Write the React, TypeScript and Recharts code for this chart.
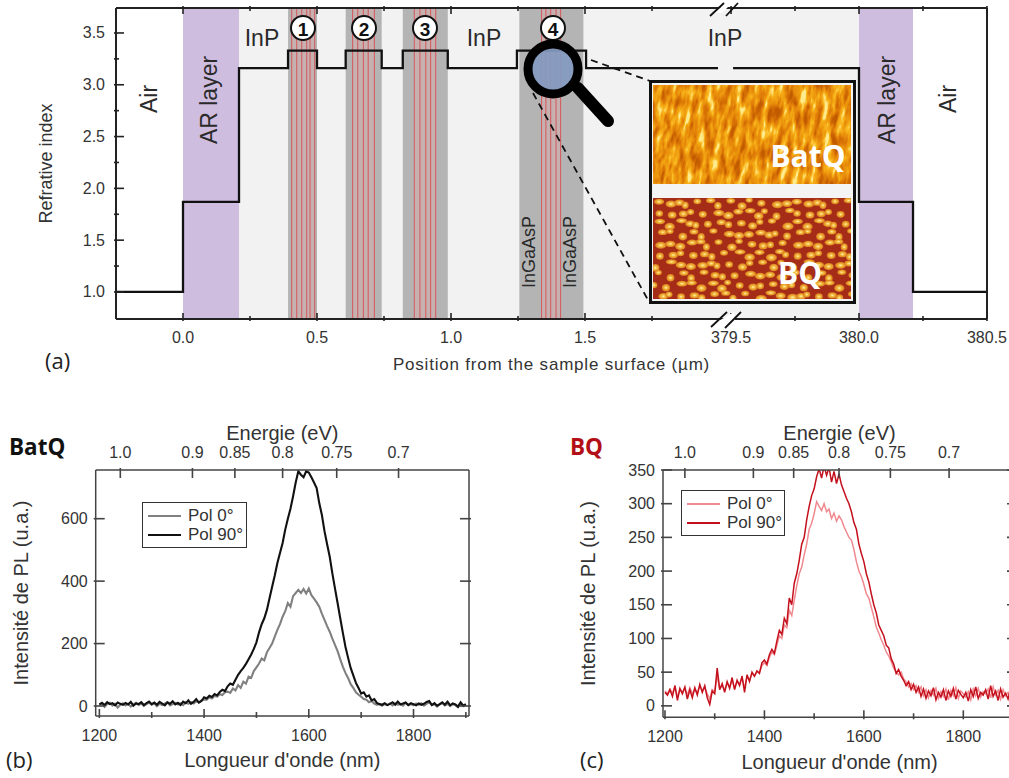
import { LineChart, Line, XAxis, YAxis, ReferenceArea, ReferenceLine, Legend } from "recharts";

const SANS = "'Liberation Sans', Arial, sans-serif";
const SEGOE = "'Open Sans', 'Noto Sans', sans-serif";
const INK = "#333";

// panel (a): refractive index profile
const stepPositions = [
  -0.25, 0, 0, 0.209, 0.209, 0.392, 0.392, 0.5, 0.5, 0.607, 0.607, 0.7414, 0.7414, 0.82, 0.82, 0.988, 0.988, 1.246, 1.246,
  1.504, 1.504, 379.449, 379.508, 380, 380, 380.211, 380.211, 380.5,
];
const stepIndex = [
  1, 1, 1.87, 1.87, 3.16, 3.16, 3.33, 3.33, 3.16, 3.16, 3.33, 3.33, 3.16, 3.16, 3.33, 3.33, 3.16, 3.16, 3.33, 3.33, 3.16, 3.16,
  3.16, 3.16, 1.87, 1.87, 1, 1,
];
const gapAfter = 379.449;
const wells = [
  [0.392, 0.5],
  [0.607, 0.7414],
  [0.82, 0.988],
  [1.255, 1.494],
];
const wellStripes = [
  [0.4056, 0.4243, 0.443, 0.4616, 0.474, 0.4914],
  [0.633, 0.652, 0.673, 0.691, 0.714],
  [0.863, 0.884, 0.906, 0.924, 0.943],
  [1.338, 1.354, 1.372, 1.392, 1.409],
];
const xMajor = [0, 0.5, 1, 1.5, 379.5, 380, 380.5];
const xMinor = [0.25, 0.75, 1.25, 1.75, 379.75, 380.25];
const yMajor = [1, 1.5, 2, 2.5, 3, 3.5];
const yMinor = [1.25, 1.75, 2.25, 2.75, 3.25];

// the x axis is broken: everything past the break is folded back next to the first part
const fold = (v: number) => (v < 100 ? v : 2.5224 + (v - 380) * 0.955);

const stepRows: { x: number; n: number | null }[] = [];
stepPositions.forEach((p, i) => {
  stepRows.push({ x: fold(p), n: stepIndex[i] });
  if (p === gapAfter) stepRows.push({ x: fold(p) + 0.001, n: null });
});

// panels (b) and (c): one value every 5 nm, rows of 50 nm
const batqPol0 = [
  3, 8, -3, 6, 10, 1, 7, -5, 4, 9,
  2, 7, -2, 5, 10, 3, 8, 0, 6, 11,
  4, 9, -1, 7, 3, 8, 12, 2, 6, 10,
  5, 9, 3, 11, 7, 13, 8, 15, 12, 18,
  21, 20, 28, 24, 32, 30, 38, 35, 44, 46,
  42, 56, 50, 67, 58, 78, 72, 94, 90, 112,
  124, 136, 152, 146, 172, 186, 200, 222, 244, 262,
  286, 304, 330, 318, 352, 362, 372, 362, 375, 360,
  376, 355, 344, 332, 318, 296, 276, 256, 238, 216,
  196, 176, 150, 126, 106, 90, 70, 58, 44, 36,
  30, 22, 20, 12, 16, 8, 4, 7, 1, 6,
  3, 8, 2, 9, 4, 7, 1, 10, 3, 6,
  2, 8, 4, 9, 1, 7, 12, 3, 6, -2,
  5, 9, 2, 7, 0, 6, 3, -4, 5, -1,
  4,
];
const batqPol90 = [
  5, 10, 3, 12, 6, 9, 2, 11, 7, 4,
  10, 5, 13, 1, 8, 6, 12, 3, 9, 14,
  6, 11, 4, 13, 8, 2, 12, 7, 15, 5,
  10, 3, 14, 9, 18, 7, 13, 22, 11, 16,
  28, 24, 33, 29, 38, 34, 45, 52, 48, 63,
  72, 68, 84, 100, 112, 122, 135, 150, 165, 183,
  204, 236, 262, 281, 308, 345, 382, 418, 458, 490,
  522, 565, 600, 632, 672, 716, 752, 741, 733, 752,
  748, 733, 716, 698, 650, 612, 560, 518, 478, 425,
  377, 330, 282, 235, 190, 155, 122, 98, 74, 58,
  40, 44, 30, 34, 18, 22, 10, 6, 4, 9,
  3, 7, 12, 4, 14, 5, 8, 11, 3, 9,
  6, 2, 8, 4, 7, 13, 16, 3, 9, 1,
  6, 12, 4, 14, 2, 8, 5, -2, 12, 1,
  6,
];
const bqPol0 = [
  22, 18, 25, 19, 28, 14, 24, 20, 26, 16,
  27, 18, 24, 20, 29, 23, 27, 18, 10, 24,
  21, 44, 26, 30, 23, 34, 28, 38, 26, 36,
  32, 42, 26, 44, 38, 48, 44, 50, 50, 60,
  64, 60, 72, 80, 76, 90, 104, 100, 120, 116,
  142, 134, 157, 178, 196, 206, 224, 240, 262, 271,
  285, 303, 296, 290, 300, 288, 292, 278, 286, 274,
  282, 276, 266, 258, 250, 246, 232, 214, 200, 192,
  180, 166, 160, 146, 132, 117, 108, 98, 90, 80,
  74, 66, 56, 50, 46, 50, 40, 36, 28, 33,
  24, 30, 20, 28, 15, 24, 12, 23, 16, 26,
  11, 21, 14, 25, 9, 23, 15, 27, 11, 22,
  18, 13, 21, 9, 25, 15, 26, 13, 21, 18,
  25, 12, 28, 16, 23, 10, 24, 15, 20, 12,
  25, 14, 21,
];
const bqPol90 = [
  20, 16, 24, 14, 30, 8, 26, 18, 28, 10,
  24, 12, 27, 16, 32, 20, 30, 12, 2, 22,
  18, 56, 24, 33, 20, 36, 26, 42, 24, 38,
  30, 44, 20, 46, 36, 50, 44, 52, 48, 64,
  68, 62, 76, 84, 78, 96, 112, 106, 130, 122,
  160, 150, 182, 196, 216, 240, 250, 276, 296, 312,
  322, 340, 352, 338, 356, 342, 354, 332, 348, 330,
  344, 328, 318, 308, 300, 288, 272, 262, 240, 226,
  214, 196, 184, 166, 150, 138, 120, 112, 104, 90,
  86, 70, 62, 48, 54, 44, 38, 30, 36, 24,
  32, 20, 28, 14, 25, 11, 22, 15, 27, 9,
  20, 13, 24, 8, 22, 14, 26, 10, 23, 17,
  12, 20, 7, 24, 14, 28, 11, 20, 16, 24,
  10, 30, 14, 22, 8, 25, 13, 19, 10, 26,
  12, 20, 16,
];

const waveMajor = [1200, 1400, 1600, 1800];
const waveMinor = [1300, 1500, 1700, 1900];
const energyTicks = [1.0, 0.9, 0.85, 0.8, 0.75, 0.7];
const batqY = [0, 200, 400, 600];
const bqY = [0, 50, 100, 150, 200, 250, 300, 350];

const toRows = (pol0: number[], pol90: number[]) =>
  pol0.map((v, i) => ({ nm: 1200 + i * 5, pol0: v, pol90: pol90[i] }));
const batqRows = toRows(batqPol0, batqPol90);
const bqRows = toRows(bqPol0, bqPol90);
const energyToNm = (e: number) => 1240 / e;

type TickSpec = {
  side: "left" | "right" | "top" | "bottom";
  length: (v: number) => number;
  label?: (v: number) => string | undefined;
  size?: number;
  gap?: number;
  stroke?: string;
  width?: number;
};

// inward tick marks: recharts only draws them outward, so axes get their own tick
const inwardTick = ({ side, length, label, size = 16, gap = 9, stroke = INK, width = 1.6 }: TickSpec) =>
  (props: any) => {
    const { x, y, payload } = props;
    const len = length(payload.value);
    const text = label ? label(payload.value) : undefined;
    const dx = side === "left" ? 1 : side === "right" ? -1 : 0;
    const dy = side === "top" ? 1 : side === "bottom" ? -1 : 0;
    const tx = x - dx * gap;
    const ty = y - dy * gap;
    const anchor = side === "left" ? "end" : side === "right" ? "start" : "middle";
    return (
      <g>
        <line x1={x} y1={y} x2={x + dx * len} y2={y + dy * len} stroke={stroke} strokeWidth={width} />
        {text !== undefined && (
          <text x={tx} y={ty} textAnchor={anchor} dominantBaseline="central" fontSize={size} fontFamily={SANS} fill={INK}>
            {text}
          </text>
        )}
      </g>
    );
  };

const LegendBox = ({ payload }: any) => (
  <div style={{ border: "1.5px solid #333", background: "#fff", boxSizing: "border-box", height: 46, padding: "3px 0 0 5px" }}>
    {(payload || []).map((p: any) => (
      <div key={p.value} style={{ display: "flex", alignItems: "center", height: 19.5, fontFamily: SANS, fontSize: 17, color: INK }}>
        <span style={{ display: "inline-block", width: 33, height: 0, borderTop: `2px solid ${p.color}`, marginRight: 7 }} />
        {p.value}
      </div>
    ))}
  </div>
);

const RefractiveChart = () => {
  const labels = new Map(xMajor.map((v) => [fold(v), v.toFixed(1)]));
  const foldedTicks = [...xMajor, ...xMinor].map(fold);
  const xLen = (v: number) => (labels.has(v) ? 8 : 5);
  const yLen = (v: number) => (yMajor.includes(v) ? 10 : 5);
  const frame = { stroke: "#222", strokeWidth: 2 };
  const yTicks = [...yMajor, ...yMinor];
  return (
    <div style={{ position: "absolute", left: 0, top: 0 }}>
      <LineChart width={1009} height={392} data={stepRows} margin={{ left: 115, right: 21, top: 7, bottom: 72 }}>
        <XAxis
          dataKey="x"
          type="number"
          domain={[-0.25, 3]}
          ticks={foldedTicks}
          interval={0}
          height={1}
          tickSize={0}
          tickLine={false}
          axisLine={frame}
          tick={inwardTick({ side: "bottom", length: xLen, label: (v) => labels.get(v), gap: 16, stroke: "#222" })}
          label={{ value: "Position from the sample surface (µm)", position: "bottom", offset: 38, fontSize: 17, letterSpacing: 0.8, fontFamily: SANS, fill: INK }}
        />
        <XAxis
          xAxisId="top"
          orientation="top"
          dataKey="x"
          type="number"
          domain={[-0.25, 3]}
          ticks={foldedTicks}
          interval={0}
          height={1}
          tickSize={0}
          tickLine={false}
          axisLine={frame}
          tick={inwardTick({ side: "top", length: xLen, stroke: "#222" })}
        />
        <YAxis
          type="number"
          domain={[0.739, 3.741]}
          ticks={yTicks}
          interval={0}
          width={1}
          tickSize={0}
          tickLine={false}
          axisLine={frame}
          tick={inwardTick({ side: "left", length: yLen, label: (v) => (yMajor.includes(v) ? v.toFixed(1) : undefined), gap: 9, stroke: "#222" })}
          label={{ value: "Refrative index", angle: -90, position: "left", offset: 69, textAnchor: "middle", fontSize: 18, fontFamily: SANS, fill: INK }}
        />
        <YAxis
          yAxisId="right"
          orientation="right"
          type="number"
          domain={[0.739, 3.741]}
          ticks={yTicks}
          interval={0}
          width={1}
          tickSize={0}
          tickLine={false}
          axisLine={frame}
          tick={inwardTick({ side: "right", length: yLen, stroke: "#222" })}
        />
        <ReferenceArea x1={0} x2={fold(380)} fill="#f2f2f2" fillOpacity={1} stroke="none" />
        <ReferenceArea x1={0} x2={0.209} fill="#cfbde0" fillOpacity={1} stroke="none" />
        <ReferenceArea x1={fold(380)} x2={fold(380.211)} fill="#cfbde0" fillOpacity={1} stroke="none" />
        {wells.map(([a, b], i) => (
          <ReferenceArea key={`well${i}`} x1={a} x2={b} fill="#b4b4b4" fillOpacity={1} stroke="none" />
        ))}
        {wellStripes.map((s, i) => (
          <ReferenceArea key={`band${i}`} x1={s[0]} x2={s[s.length - 1]} fill="#e8a8a8" fillOpacity={0.35} stroke="none" />
        ))}
        {wellStripes.flat().map((x) => (
          <ReferenceLine key={x} x={x} stroke="#d6585c" strokeWidth={1} />
        ))}
        <Line dataKey="n" type="linear" stroke="#111" strokeWidth={2.3} dot={false} isAnimationActive={false} connectNulls={false} />
      </LineChart>
    </div>
  );
};

type PlChartProps = {
  rows: { nm: number; pol0: number; pol90: number }[];
  left: number;
  width: number;
  margin: { left: number; right: number; top: number; bottom: number };
  yDomain: number[];
  yTicks: number[];
  xDomain: number[];
  colors: string[];
  lineWidth: number;
  legendPos: { left: number; top: number; width: number };
};

const PlChart = ({ rows, left, width, margin, yDomain, yTicks, xDomain, colors, lineWidth, legendPos }: PlChartProps) => {
  const axis = { stroke: "#444", strokeWidth: 1.5 };
  const energyNm = energyTicks.map(energyToNm);
  const energyLabel = (v: number) => {
    const e = energyTicks[energyNm.indexOf(v)];
    return e === 0.85 || e === 0.75 ? e.toFixed(2) : e.toFixed(1);
  };
  const waveTicks = [...waveMajor, ...waveMinor];
  return (
    <div style={{ position: "absolute", left, top: 410 }}>
      <LineChart width={width} height={368} data={rows} margin={margin}>
        <XAxis
          dataKey="nm"
          type="number"
          domain={xDomain}
          ticks={waveTicks}
          interval={0}
          allowDataOverflow
          height={1}
          tickSize={0}
          tickLine={false}
          axisLine={axis}
          tick={inwardTick({
            side: "bottom",
            length: (v) => (waveMajor.includes(v) ? 9 : 6),
            label: (v) => (waveMajor.includes(v) ? String(v) : undefined),
            gap: 17,
            stroke: "#444",
          })}
          label={{ value: "Longueur d'onde (nm)", position: "bottom", offset: 36, fontSize: 20, fontFamily: SANS, fill: INK }}
        />
        <XAxis
          xAxisId="top"
          orientation="top"
          dataKey="nm"
          type="number"
          domain={xDomain}
          ticks={energyNm}
          interval={0}
          allowDataOverflow
          height={1}
          tickSize={0}
          tickLine={false}
          axisLine={axis}
          tick={inwardTick({ side: "top", length: () => 10, label: energyLabel, gap: 16, stroke: "#444" })}
          label={{ value: "Energie (eV)", position: "top", offset: 29, fontSize: 20, fontFamily: SANS, fill: INK }}
        />
        <YAxis
          type="number"
          domain={yDomain}
          ticks={yTicks}
          interval={0}
          allowDataOverflow
          width={1}
          tickSize={0}
          tickLine={false}
          axisLine={axis}
          tick={inwardTick({ side: "left", length: () => 11, label: (v) => String(v), gap: 6, stroke: "#444" })}
          label={{ value: "Intensité de PL (u.a.)", angle: -90, position: "left", offset: 74, textAnchor: "middle", fontSize: 20, fontFamily: SANS, fill: INK }}
        />
        <YAxis
          yAxisId="right"
          orientation="right"
          type="number"
          domain={yDomain}
          ticks={yTicks}
          interval={0}
          allowDataOverflow
          width={1}
          tickSize={0}
          tickLine={false}
          axisLine={axis}
          tick={inwardTick({ side: "right", length: () => 11, stroke: "#444" })}
        />
        <Legend
          layout="vertical"
          align="center"
          verticalAlign="middle"
          content={<LegendBox />}
          wrapperStyle={{ left: legendPos.left, top: legendPos.top, width: legendPos.width, bottom: "auto", right: "auto" }}
        />
        <Line dataKey="pol0" name="Pol 0°" type="linear" stroke={colors[0]} strokeWidth={lineWidth} dot={false} isAnimationActive={false} />
        <Line dataKey="pol90" name="Pol 90°" type="linear" stroke={colors[1]} strokeWidth={lineWidth} dot={false} isAnimationActive={false} />
      </LineChart>
    </div>
  );
};

const rotated = (x: number, y: number, text: string, size: number) => (
  <text x={x} y={y} transform={`rotate(-90 ${x} ${y})`} textAnchor="middle" dominantBaseline="central" fontSize={size} fontFamily={SANS} fill="#2a2a2a">
    {text}
  </text>
);

// grains of the BQ micrograph, just decoration on a jittered lattice
const grainJitter = [2.1, -3.2, 0.7, 3.4, -1.6, -2.7, 1.3, 3.8, -0.4, -3.6, 2.8, 0.2, -2.1];
const grains: { cx: number; cy: number; rx: number; ry: number }[] = [];
for (let row = 0; row < 10; row++) {
  for (let col = 0; col < 19; col++) {
    const a = grainJitter[(row * 5 + col * 3) % grainJitter.length];
    const b = grainJitter[(row * 7 + col * 2 + 4) % grainJitter.length];
    grains.push({
      cx: 657 + col * 10.6 + (row % 2) * 5 + a,
      cy: 203 + row * 10.3 + b * 0.8,
      rx: 3.4 + (a + 4) * 0.28,
      ry: 2.6 + (b + 4) * 0.16,
    });
  }
}

// everything that is not data: labels, inset micrographs, magnifier, axis breaks
const Overlay = () => (
  <svg width={1009} height={778} style={{ position: "absolute", left: 0, top: 0, pointerEvents: "none" }}>
    <defs>
      <filter id="batq" x="0" y="0" width="100%" height="100%" colorInterpolationFilters="sRGB">
        <feTurbulence type="fractalNoise" baseFrequency="0.17 0.05" numOctaves={3} seed={7} />
        <feColorMatrix values="2 0 0 0 -0.5  2 0 0 0 -0.5  2 0 0 0 -0.5  0 0 0 0 1" />
        <feComponentTransfer>
          <feFuncR type="table" tableValues="0.76 0.84 0.9 0.94 0.98 1" />
          <feFuncG type="table" tableValues="0.36 0.44 0.53 0.62 0.72 0.92" />
          <feFuncB type="table" tableValues="0 0.02 0.04 0.06 0.12 0.55" />
        </feComponentTransfer>
      </filter>
      <radialGradient id="grain">
        <stop offset="0%" stopColor="#fff2a8" />
        <stop offset="45%" stopColor="#f2b63a" />
        <stop offset="100%" stopColor="#d9791e" />
      </radialGradient>
      <clipPath id="batqClip">
        <rect x={653} y={85} width={198} height={99} />
      </clipPath>
      <clipPath id="bqClip">
        <rect x={653} y={198} width={198} height={101} />
      </clipPath>
    </defs>

    <line x1={591} y1={60} x2={650} y2={81} stroke="#111" strokeWidth={1.8} strokeDasharray="7 5" />
    <line x1={533} y1={93} x2={648} y2={300} stroke="#111" strokeWidth={1.8} strokeDasharray="7 5" />

    <rect x={650.5} y={81.5} width={204} height={221} fill="#f4f4f4" stroke="#111" strokeWidth={3} />
    <g clipPath="url(#batqClip)">
      <rect x={620} y={50} width={270} height={170} filter="url(#batq)" transform="rotate(10 752 135)" />
    </g>
    <g clipPath="url(#bqClip)">
      <rect x={653} y={198} width={198} height={101} fill="#a52d18" />
      {grains.map((g, i) => (
        <ellipse key={i} cx={g.cx} cy={g.cy} rx={g.rx} ry={g.ry} fill="url(#grain)" />
      ))}
    </g>
    <text x={808} y={155} textAnchor="middle" dominantBaseline="central" fontSize={30} fontWeight={700} fontFamily={SEGOE} fill="#fff">BatQ</text>
    <text x={800} y={272} textAnchor="middle" dominantBaseline="central" fontSize={30} fontWeight={700} fontFamily={SEGOE} fill="#fff">BQ</text>

    {[303, 364, 425, 553].map((x, i) => (
      <g key={x}>
        <circle cx={x} cy={28} r={12} fill="#fff" stroke="#111" strokeWidth={2} />
        <text x={x} y={29} textAnchor="middle" dominantBaseline="central" fontSize={19} fontWeight={700} fontFamily={SANS} fill="#111">
          {i + 1}
        </text>
      </g>
    ))}

    <line x1={578} y1={88} x2={608} y2={121} stroke="#000" strokeWidth={12} strokeLinecap="round" />
    <circle cx={553} cy={69} r={25} fill="#839ac0" fillOpacity={0.92} stroke="#000" strokeWidth={9} />

    <polygon points="714,13 729,0 735,0 722,13" fill="#fff" />
    <line x1={710} y1={16} x2={724} y2={3} stroke="#111" strokeWidth={1.8} />
    <line x1={726} y1={16} x2={738} y2={3} stroke="#111" strokeWidth={1.8} />
    <polygon points="717,322 734,312 735,322 719,322" fill="#fff" />
    <line x1={711} y1={327} x2={727} y2={312} stroke="#111" strokeWidth={1.8} />
    <line x1={725} y1={328} x2={741} y2={312} stroke="#111" strokeWidth={1.8} />

    {[262, 484, 725].map((x) => (
      <text key={x} x={x} y={38} textAnchor="middle" dominantBaseline="central" fontSize={23} fontFamily={SANS} fill="#2a2a2a">InP</text>
    ))}
    {rotated(149, 99, "Air", 23)}
    {rotated(948, 99, "Air", 23)}
    {rotated(209, 100, "AR layer", 23)}
    {rotated(887, 100, "AR layer", 23)}
    {rotated(529, 252, "InGaAsP", 18)}
    {rotated(570, 252, "InGaAsP", 18)}

    <text x={45} y={360} dominantBaseline="central" fontSize={22} fontFamily={SEGOE} fill="#222">(a)</text>
    <text x={6} y={759} dominantBaseline="central" fontSize={22} fontFamily={SEGOE} fill="#222">(b)</text>
    <text x={580} y={759} dominantBaseline="central" fontSize={22} fontFamily={SEGOE} fill="#222">(c)</text>
    <text x={9} y={446} dominantBaseline="central" fontSize={22.5} fontWeight={700} fontFamily={SEGOE} fill="#111">BatQ</text>
    <text x={570} y={446} dominantBaseline="central" fontSize={22.5} fontWeight={700} fontFamily={SEGOE} fill="#b30f16">BQ</text>
  </svg>
);

export default function App() {
  return (
    <div style={{ position: "absolute", left: 0, top: 0, width: 1009, height: 778, overflow: "hidden", background: "#fff" }}>
      <RefractiveChart />
      <PlChart
        rows={batqRows}
        left={0}
        width={490}
        margin={{ left: 94.7, right: 20, top: 59, bottom: 61 }}
        yDomain={[-32, 756]}
        yTicks={batqY}
        xDomain={[1193, 1906]}
        colors={["#808080", "#111111"]}
        lineWidth={2.1}
        legendPos={{ left: 142, top: 92, width: 105 }}
      />
      <PlChart
        rows={bqRows}
        left={550}
        width={480}
        margin={{ left: 112, right: 13, top: 59, bottom: 59.7 }}
        yDomain={[-17, 350]}
        yTicks={bqY}
        xDomain={[1196, 1906]}
        colors={["#f08a90", "#c4101c"]}
        lineWidth={1.5}
        legendPos={{ left: 131, top: 80, width: 104 }}
      />
      <Overlay />
    </div>
  );
}
